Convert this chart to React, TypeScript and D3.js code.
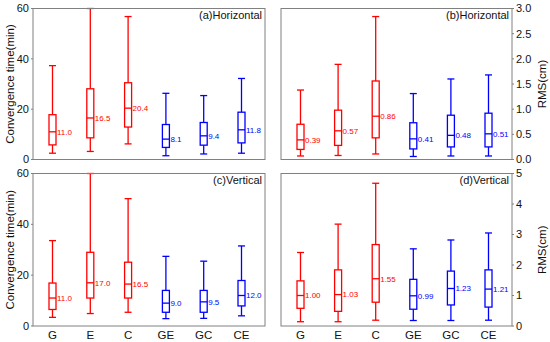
import React from "react";
import * as d3 from "d3";

// categories shared by all four panels
const categories = ["G", "E", "C", "GE", "GC", "CE"];
const seriesColors = ["#ff0000", "#ff0000", "#ff0000", "#0000ff", "#0000ff", "#0000ff"];

// (a) horizontal convergence time (min)
const aLower = [2.5, 3.2, 6.2, 1.5, 2.2, 2.5];
const aQ1 = [5.8, 8.6, 12.9, 4.8, 5.7, 6.6];
const aMedian = [11.0, 16.5, 20.4, 8.1, 9.4, 11.8];
const aQ3 = [17.8, 28.1, 30.5, 13.9, 14.7, 18.8];
const aUpper = [37.3, 60, 56.8, 26.3, 25.4, 32.2];

// (b) horizontal RMS (cm)
const bLower = [0.07, 0.08, 0.11, 0.06, 0.07, 0.07];
const bQ1 = [0.2, 0.28, 0.43, 0.21, 0.25, 0.25];
const bMedian = [0.39, 0.57, 0.86, 0.41, 0.48, 0.51];
const bQ3 = [0.7, 0.98, 1.56, 0.73, 0.88, 0.92];
const bUpper = [1.38, 1.89, 2.84, 1.31, 1.6, 1.68];

// (c) vertical convergence time (min)
const cLower = [3.4, 4.9, 5.4, 2.9, 3.0, 4.0];
const cQ1 = [6.5, 11.0, 11.0, 5.4, 5.4, 7.9];
const cMedian = [11.0, 17.0, 16.5, 9.0, 9.5, 12.0];
const cQ3 = [16.9, 29.0, 25.1, 14.0, 14.0, 17.9];
const cUpper = [33.6, 60, 50.1, 27.4, 25.5, 31.5];

// (d) vertical RMS (cm)
const dLower = [0.14, 0.14, 0.19, 0.18, 0.18, 0.19];
const dQ1 = [0.58, 0.48, 0.78, 0.55, 0.69, 0.62];
const dMedian = [1.0, 1.03, 1.55, 0.99, 1.23, 1.21];
const dQ3 = [1.48, 1.84, 2.67, 1.53, 1.8, 1.84];
const dUpper = [2.41, 3.34, 4.68, 2.53, 2.82, 3.05];

const timeTicks = [0, 20, 40, 60];
const rmsHTicks = [0, 0.5, 1.0, 1.5, 2.0, 2.5, 3.0];
const rmsVTicks = [0, 1, 2, 3, 4, 5];

const FONT = "Liberation Sans, Arial, sans-serif";

type PanelProps = {
  x: number;
  y: number;
  w: number;
  h: number;
  title: string;
  lower: number[];
  q1: number[];
  median: number[];
  q3: number[];
  upper: number[];
  domain: [number, number];
  ticks: number[];
  tickFmt: (v: number) => string;
  labelFmt: (v: number) => string;
  side: "left" | "right";
  axisLabel: string;
  showCats: boolean;
};

const Panel = (p: PanelProps) => {
  const xScale = d3.scalePoint<string>().domain(categories).range([p.x + 19.5, p.x + p.w - 23.5]);
  const yScale = d3.scaleLinear().domain(p.domain).range([p.y + p.h, p.y]);
  const bw = 7;
  const axisX = p.side === "left" ? p.x : p.x + p.w;
  const dir = p.side === "left" ? -1 : 1;

  return (
    <g>
      {categories.map((c, i) => {
        const cx = xScale(c)!;
        const col = seriesColors[i];
        return (
          <g key={c} stroke={col} strokeWidth={1.3} fill="none">
            <line x1={cx} x2={cx} y1={yScale(p.upper[i])} y2={yScale(p.q3[i])} />
            <line x1={cx} x2={cx} y1={yScale(p.q1[i])} y2={yScale(p.lower[i])} />
            <line x1={cx - bw / 2} x2={cx + bw / 2} y1={yScale(p.upper[i])} y2={yScale(p.upper[i])} />
            <line x1={cx - bw / 2} x2={cx + bw / 2} y1={yScale(p.lower[i])} y2={yScale(p.lower[i])} />
            <rect
              x={cx - bw / 2}
              y={yScale(p.q3[i])}
              width={bw}
              height={yScale(p.q1[i]) - yScale(p.q3[i])}
              fill="#fff"
            />
            <line x1={cx - bw / 2} x2={cx + bw / 2} y1={yScale(p.median[i])} y2={yScale(p.median[i])} />
            <text
              x={cx + bw / 2 + 1}
              y={yScale(p.median[i])}
              dy="0.35em"
              fill={col}
              stroke="none"
              fontSize={8}
              fontFamily={FONT}
            >
              {p.labelFmt(p.median[i])}
            </text>
          </g>
        );
      })}
      <rect x={p.x} y={p.y} width={p.w} height={p.h} fill="none" stroke="#808080" strokeWidth={1} />
      <text x={p.x + p.w - 3} y={p.y + 7} dy="0.35em" textAnchor="end" fontSize={11} fontFamily={FONT} fill="#111">
        {p.title}
      </text>
      {p.ticks.map((t) => (
        <g key={t}>
          <line x1={axisX} x2={axisX + dir * 2} y1={yScale(t)} y2={yScale(t)} stroke="#808080" strokeWidth={1} />
          <text
            x={axisX + dir * 4}
            y={yScale(t)}
            dy="0.35em"
            textAnchor={p.side === "left" ? "end" : "start"}
            fontSize={11}
            fontFamily={FONT}
            fill="#111"
          >
            {p.tickFmt(t)}
          </text>
        </g>
      ))}
      <text
        transform={`translate(${p.side === "left" ? p.x - 23 : p.x + p.w + 30},${p.y + p.h / 2}) rotate(-90)`}
        dy="0.35em"
        textAnchor="middle"
        fontSize={11.5}
        fontFamily={FONT}
        fill="#111"
      >
        {p.axisLabel}
      </text>
      {p.showCats &&
        categories.map((c) => (
          <text
            key={c}
            x={xScale(c)!}
            y={p.y + p.h + 9}
            dy="0.35em"
            textAnchor="middle"
            fontSize={11.5}
            fontFamily={FONT}
            fill="#111"
          >
            {c}
          </text>
        ))}
    </g>
  );
};

export default function App() {
  const f1 = (v: number) => v.toFixed(1);
  const f2 = (v: number) => v.toFixed(2);
  const f0 = (v: number) => String(v);
  return (
    <svg width={550} height={342} style={{ position: "absolute", left: 0, top: 0, background: "#fff" }}>
      <Panel
        x={33} y={8.5} w={232} h={151}
        title="(a)Horizontal"
        lower={aLower} q1={aQ1} median={aMedian} q3={aQ3} upper={aUpper}
        domain={[0, 60]} ticks={timeTicks} tickFmt={f0} labelFmt={f1}
        side="left" axisLabel="Convergence time(min)" showCats={false}
      />
      <Panel
        x={281} y={8.5} w={231} h={151}
        title="(b)Horizontal"
        lower={bLower} q1={bQ1} median={bMedian} q3={bQ3} upper={bUpper}
        domain={[0, 3]} ticks={rmsHTicks} tickFmt={f1} labelFmt={f2}
        side="right" axisLabel="RMS(cm)" showCats={false}
      />
      <Panel
        x={33} y={173.5} w={232} h={152.5}
        title="(c)Vertical"
        lower={cLower} q1={cQ1} median={cMedian} q3={cQ3} upper={cUpper}
        domain={[0, 60]} ticks={timeTicks} tickFmt={f0} labelFmt={f1}
        side="left" axisLabel="Convergence time(min)" showCats={true}
      />
      <Panel
        x={281} y={173.5} w={231} h={152.5}
        title="(d)Vertical"
        lower={dLower} q1={dQ1} median={dMedian} q3={dQ3} upper={dUpper}
        domain={[0, 5]} ticks={rmsVTicks} tickFmt={f0} labelFmt={f2}
        side="right" axisLabel="RMS(cm)" showCats={true}
      />
    </svg>
  );
}
